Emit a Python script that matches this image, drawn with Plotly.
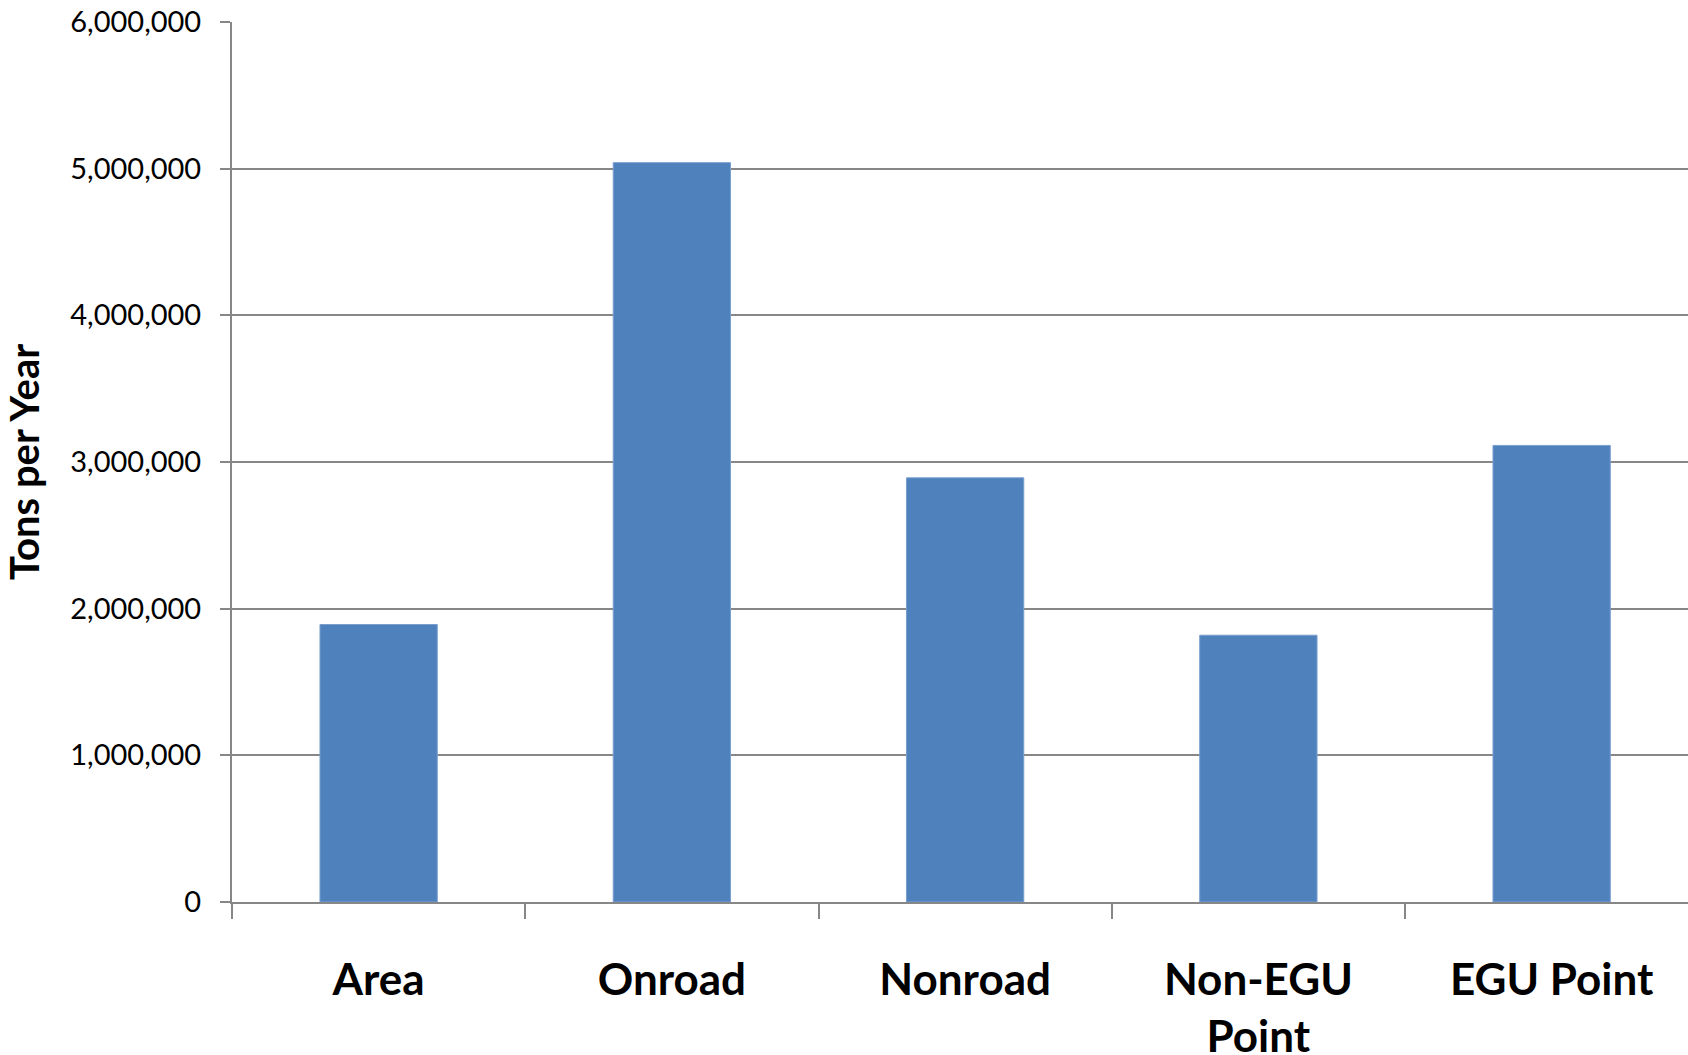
import plotly.graph_objects as go

# Annual emissions by source sector
sectors = ["Area", "Onroad", "Nonroad", "Non-EGU<br>Point", "EGU Point"]
tons_per_year = [1892000, 5041000, 2892000, 1819000, 3113000]

y_ticks = [0, 1000000, 2000000, 3000000, 4000000, 5000000, 6000000]

axis_grey = "#878787"

fig = go.Figure(
    go.Bar(
        x=sectors,
        y=tons_per_year,
        marker=dict(color="#4F81BD", line=dict(color="#7A9FCF", width=1)),
        hoverinfo="x+y",
    )
)

fig.update_layout(
    width=1688,
    height=1055,
    margin=dict(l=232, r=0, t=22, b=153),
    paper_bgcolor="white",
    plot_bgcolor="white",
    bargap=0.6,
    showlegend=False,
    font=dict(family="Lato, 'Open Sans', sans-serif", color="black"),
)

fig.update_xaxes(
    type="category",
    range=[-0.5, 4.465],
    automargin=False,
    showline=True,
    linecolor=axis_grey,
    linewidth=2,
    ticks="outside",
    tickson="boundaries",
    ticklen=15,
    tickwidth=2,
    tickcolor=axis_grey,
    showgrid=False,
    tickfont=dict(size=44, family="Lato, sans-serif", weight="bold"),
    ticklabelstandoff=38,
)

fig.update_yaxes(
    range=[0, 6000000],
    automargin=False,
    tickvals=y_ticks,
    tickformat=",d",
    showline=True,
    linecolor=axis_grey,
    linewidth=2,
    ticks="outside",
    ticklen=10,
    tickwidth=2,
    tickcolor=axis_grey,
    showgrid=True,
    gridcolor=axis_grey,
    gridwidth=1.6,
    zeroline=False,
    tickfont=dict(size=29, family="Lato, sans-serif"),
    ticklabelstandoff=13,
    title=dict(
        text="Tons per Year",
        font=dict(size=40, family="Lato, sans-serif", weight="bold"),
        standoff=30,
    ),
)

fig.write_html("out.html")
